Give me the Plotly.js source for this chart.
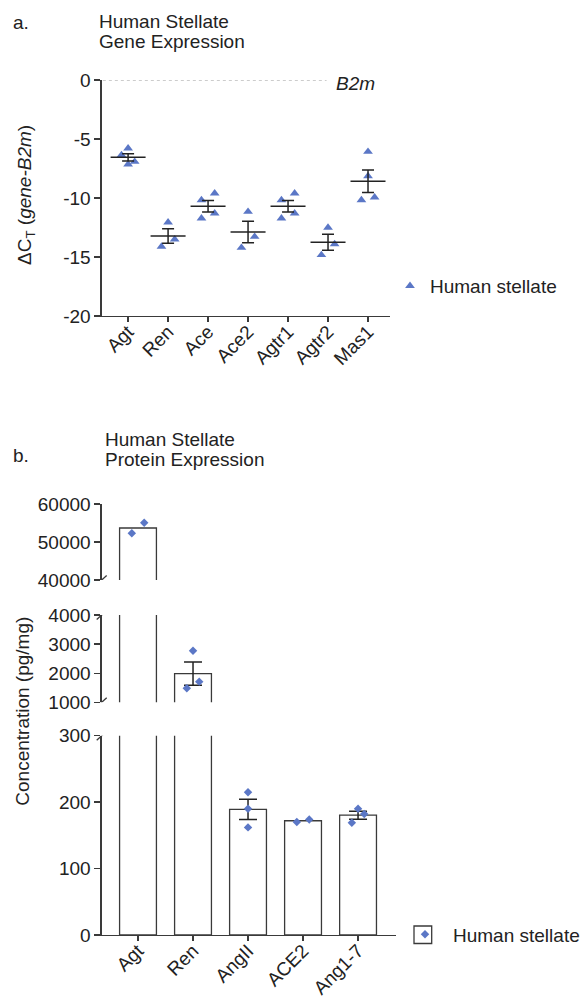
<!DOCTYPE html>
<html>
<head>
<meta charset="utf-8">
<script src="https://cdn.plot.ly/plotly-3.0.1.min.js"></script>
<style>html,body{margin:0;padding:0;background:#fff;}#chart{width:582px;height:996px;}</style>
</head>
<body>
<div id="chart"></div>
<script>
// ---------- DATA ----------
// Panel a: ΔCT (gene - B2m), human stellate replicates
const geneCategories = ['Agt', 'Ren', 'Ace', 'Ace2', 'Agtr1', 'Agtr2', 'Mas1'];
const agtCt   = [-5.79, -6.36, -6.92, -7.15];
const renCt   = [-12.06, -13.50, -14.12];
const aceCt   = [-9.60, -10.17, -11.30, -11.72];
const ace2Ct  = [-11.16, -13.28, -14.21];
const agtr1Ct = [-9.60, -10.17, -11.30, -11.72];
const agtr2Ct = [-12.51, -13.90, -14.83];
const mas1Ct  = [-6.07, -8.14, -9.94, -10.17];
const geneValues = [agtCt, renCt, aceCt, ace2Ct, agtr1Ct, agtr2Ct, mas1Ct];
const geneTicks = [-20, -15, -10, -5, 0];

// Panel b: protein concentration (pg/mg)
const proteinCategories = ['Agt', 'Ren', 'AngII', 'ACE2', 'Ang1-7'];
const agtConc   = [55080, 52290];
const renConc   = [2770, 1710, 1480];
const angIIConc = [215, 190, 162];
const ace2Conc  = [174, 170];
const ang17Conc = [190, 182, 169];
const proteinValues = [agtConc, renConc, angIIConc, ace2Conc, ang17Conc];
const lowTicks  = [0, 100, 200, 300];
const midTicks  = [1000, 2000, 3000, 4000];
const highTicks = [40000, 50000, 60000];
const seriesName = 'Human stellate';

// ---------- LAYOUT GEOMETRY ----------
const W = 582, H = 996;
const fx = p => p / W;
const fy = p => 1 - p / H;
const FONT = 'Liberation Sans, Arial, Helvetica, sans-serif';
const TXT = '#222';
const AX = '#3a3a3a';
const BLUE = '#5b77c6';

const A = {left: 101.7, right: 390, top: 80, bottom: 316, xr: [-0.66, 6.55], yr: [-20, 0]};
const B = {left: 101.7, right: 396, xr: [-0.66, 4.69],
  segs: [ {top: 735.7, bottom: 935, r: [0, 300], ticks: lowTicks, ax: 'y2'},
          {top: 615, bottom: 702.3, r: [1000, 4000], ticks: midTicks, ax: 'y3'},
          {top: 504, bottom: 580, r: [40000, 60000], ticks: highTicks, ax: 'y4'} ]};

// ---------- helpers ----------
const mean = a => a.reduce((s, v) => s + v, 0) / a.length;
const sem = a => { const m = mean(a); const v = a.reduce((s, x) => s + (x - m) * (x - m), 0) / (a.length - 1); return Math.sqrt(v / a.length); };

// Prism-like spreading of overlapping points (in px), returns slot offsets
function swarmSlots(vals, pxPerUnit, thresh) {
  const idx = vals.map((v, i) => i).sort((a, b) => vals[b] - vals[a]);
  const slots = new Array(vals.length).fill(0);
  const PAT = {1: [0], 2: [1, -1], 3: [0, 1, -1], 4: [0, -1, 1, 0]};
  let cl = [idx[0]];
  const flush = () => { const p = PAT[cl.length] || cl.map((_, j) => (j % 2 ? -1 : 1) * Math.ceil(j / 2)); cl.forEach((k, j) => slots[k] = p[j]); };
  for (let j = 1; j < idx.length; j++) {
    if ((vals[idx[j - 1]] - vals[idx[j]]) * pxPerUnit < thresh) cl.push(idx[j]);
    else { flush(); cl = [idx[j]]; }
  }
  flush();
  return slots;
}

// ---------- Panel a traces ----------
const aPxPerUnit = (A.bottom - A.top) / (A.yr[1] - A.yr[0]);
const aPxPerCat = (A.right - A.left) / (A.xr[1] - A.xr[0]);
const aX = [], aY = [];
geneValues.forEach((vals, i) => {
  const s = swarmSlots(vals, aPxPerUnit, 12);
  vals.forEach((v, j) => { aX.push(i + s[j] * 6.6 / aPxPerCat); aY.push(v); });
});
const traces = [];
traces.push({
  type: 'scatter', mode: 'markers', x: aX, y: aY, xaxis: 'x', yaxis: 'y',
  name: seriesName, legend: 'legend',
  marker: {symbol: 'triangle-up', size: 8.5, color: BLUE}, hoverinfo: 'y'
});
traces.push({
  type: 'scatter', mode: 'markers', x: geneCategories.map((c, i) => i), y: geneValues.map(mean),
  xaxis: 'x', yaxis: 'y', showlegend: false, hoverinfo: 'y',
  marker: {symbol: 'line-ew', size: 25, color: '#222', line: {width: 1.5, color: '#222'}},
  error_y: {type: 'data', array: geneValues.map(sem), width: 6, thickness: 1.5, color: '#222'}
});

// ---------- Panel b traces ----------
const bPxPerCat = (B.right - B.left) / (B.xr[1] - B.xr[0]);
const pMeans = proteinValues.map(mean);
const pErr = proteinValues.map(v => v.length >= 3 ? sem(v) : NaN);
B.segs.forEach(seg => {
  traces.push({
    type: 'bar', x: proteinCategories.map((c, i) => i), y: pMeans, xaxis: 'x2', yaxis: seg.ax,
    width: 0.67, showlegend: false, hoverinfo: 'y',
    marker: {color: '#ffffff', line: {color: AX, width: 1.3}},
    error_y: {type: 'data', array: pErr, width: 9, thickness: 1.5, color: '#222'}
  });
});
B.segs.forEach((seg, k) => {
  const pxPerUnit = (seg.bottom - seg.top) / (seg.r[1] - seg.r[0]);
  const xs = [], ys = [];
  proteinValues.forEach((vals, i) => {
    const s = swarmSlots(vals, pxPerUnit, 12);
    vals.forEach((v, j) => { xs.push(i + s[j] * 6.2 / bPxPerCat); ys.push(v); });
  });
  traces.push({
    type: 'scatter', mode: 'markers', x: xs, y: ys, xaxis: 'x2', yaxis: seg.ax,
    name: seriesName, showlegend: k === 0, legend: 'legend2', cliponaxis: true, hoverinfo: 'y',
    marker: {symbol: 'diamond', size: 6.5, color: BLUE}
  });
});

// ---------- axes ----------
const tickFont = {family: FONT, size: 19, color: TXT};
const baseY = {showline: true, linecolor: AX, linewidth: 1.3, ticks: 'outside', ticklen: 6, tickwidth: 1.3,
  tickcolor: AX, showgrid: false, zeroline: false, tickfont: tickFont, fixedrange: true, tickmode: 'array'};
const baseX = {showline: true, linecolor: AX, linewidth: 1.3, ticks: 'outside', ticklen: 5, tickwidth: 1.3,
  tickcolor: AX, showgrid: false, zeroline: false, tickfont: tickFont, tickangle: -45, fixedrange: true,
  tickmode: 'array', ticklabelstandoff: -9};

const layout = {
  width: W, height: H, margin: {l: 0, r: 0, t: 0, b: 0, autoexpand: false},
  paper_bgcolor: '#fff', plot_bgcolor: 'rgba(0,0,0,0)',
  font: {family: FONT, size: 19, color: TXT},
  barmode: 'overlay',
  xaxis: Object.assign({}, baseX, {domain: [fx(A.left), fx(A.right)], range: A.xr, anchor: 'y',
    tickvals: geneCategories.map((c, i) => i), ticktext: geneCategories}),
  yaxis: Object.assign({}, baseY, {domain: [fy(A.bottom), fy(A.top)], range: A.yr, anchor: 'x',
    tickvals: geneTicks, ticktext: geneTicks.map(String)}),
  xaxis2: Object.assign({}, baseX, {domain: [fx(B.left), fx(B.right)], range: B.xr, anchor: 'y2',
    tickvals: proteinCategories.map((c, i) => i), ticktext: proteinCategories}),
  legend: {x: fx(390), xanchor: 'left', y: fy(286), yanchor: 'middle', bgcolor: 'rgba(0,0,0,0)',
    font: {family: FONT, size: 19, color: TXT}},
  legend2: {x: fx(397), xanchor: 'left', y: fy(934.5), yanchor: 'middle', bgcolor: 'rgba(0,0,0,0)',
    itemwidth: 46, font: {family: FONT, size: 19, color: TXT}},
  shapes: [], annotations: []
};
B.segs.forEach((seg, k) => {
  layout['yaxis' + (k + 2)] = Object.assign({}, baseY, {domain: [fy(seg.bottom), fy(seg.top)], range: seg.r,
    anchor: 'x2', tickvals: seg.ticks, ticktext: seg.ticks.map(String)});
});

// B2m reference line and label
layout.shapes.push({type: 'line', xref: 'x domain', yref: 'y', x0: 0.004, x1: 0.78, y0: 0, y1: 0,
  line: {color: '#9a9a9a', width: 1, dash: 'dot'}, layer: 'below'});
layout.annotations.push({xref: 'x domain', yref: 'y', x: 0.805, y: 0, xanchor: 'left', yanchor: 'middle', yshift: -3,
  text: '<i>B2m</i>', showarrow: false, font: {family: FONT, size: 19, color: TXT}});

// axis-break marks
const slash = (yref, yval) => ({type: 'line', xref: 'paper', xsizemode: 'pixel', xanchor: fx(B.left), x0: -5, x1: 5,
  yref: yref, ysizemode: 'pixel', yanchor: yval, y0: -4.5, y1: 4.5, line: {color: AX, width: 1.3}});
layout.shapes.push(slash('y4', 40000), slash('y3', 4000), slash('y3', 1000), slash('y2', 300));

// legend box for panel b
layout.shapes.push({type: 'rect', xref: 'paper', yref: 'paper', x0: fx(414), x1: fx(431.7), y0: fy(943.5), y1: fy(926),
  line: {color: AX, width: 1.3}, fillcolor: 'rgba(0,0,0,0)'});

// titles
const ann = (x, y, text, extra) => Object.assign({xref: 'paper', yref: 'paper', x: fx(x), y: fy(y), xanchor: 'left',
  yanchor: 'middle', text: text, showarrow: false, font: {family: FONT, size: 19, color: TXT}}, extra || {});
layout.annotations.push(
  ann(11, 22, 'a.'), ann(97, 21.7, 'Human Stellate'), ann(97, 41.7, 'Gene Expression'),
  ann(11, 455, 'b.'), ann(103, 440, 'Human Stellate'), ann(103, 460, 'Protein Expression'),
  ann(26, 195, 'ΔC<sub>T</sub> (<i>gene-B2m</i>)', {xanchor: 'center', textangle: -90}),
  ann(21.7, 711, 'Concentration (pg/mg)', {xanchor: 'center', textangle: -90})
);

Plotly.newPlot('chart', traces, layout, {displayModeBar: false, staticPlot: true});
</script>
</body>
</html>
